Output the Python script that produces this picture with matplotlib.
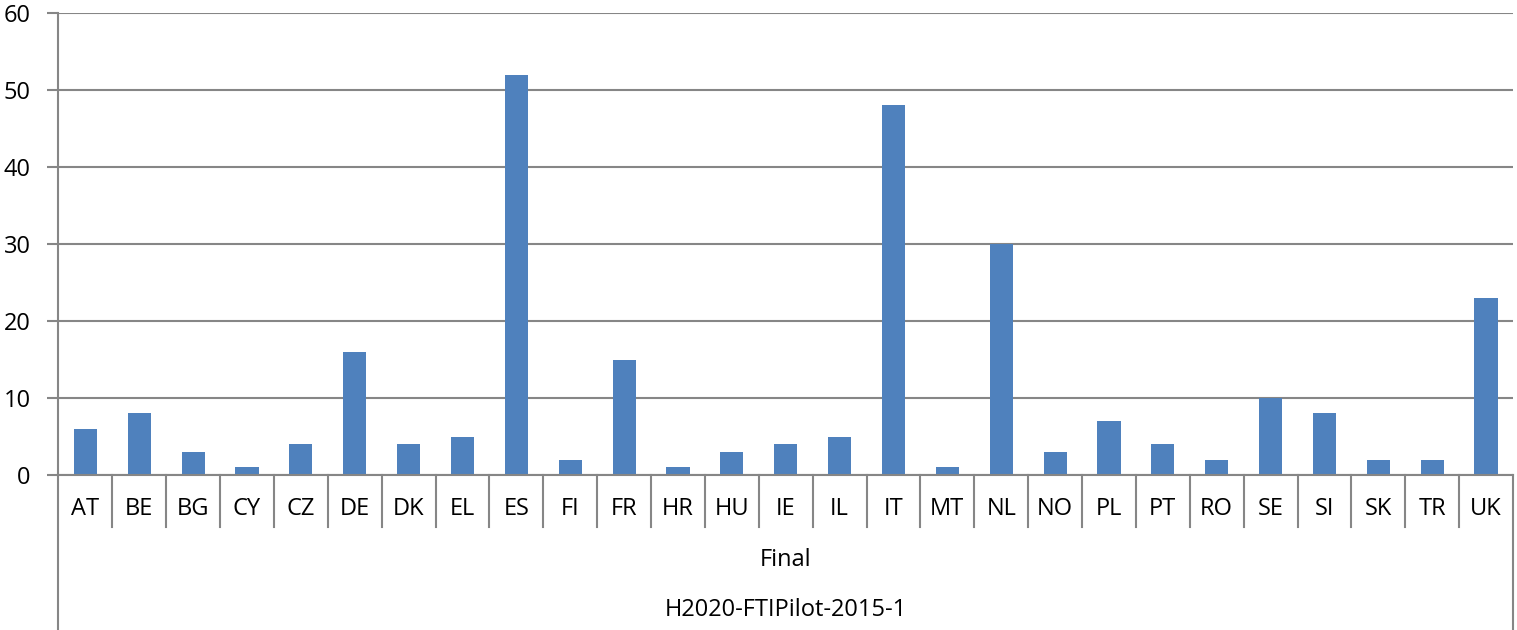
import matplotlib
matplotlib.use("Agg")
import matplotlib.pyplot as plt
import matplotlib.transforms as mtransforms

countries = ["AT", "BE", "BG", "CY", "CZ", "DE", "DK", "EL", "ES", "FI", "FR", "HR", "HU", "IE",
             "IL", "IT", "MT", "NL", "NO", "PL", "PT", "RO", "SE", "SI", "SK", "TR", "UK"]
values = [6, 8, 3, 1, 4, 16, 4, 5, 52, 2, 15, 1, 3, 4, 5, 48, 1, 30, 3, 7, 4, 2, 10, 8, 2, 2, 23]
level2 = "Final"
level3 = "H2020-FTIPilot-2015-1"
yticks = [0, 10, 20, 30, 40, 50, 60]

W, H = 1517, 630
plt.rcParams["font.family"] = ["Open Sans", "DejaVu Sans"]
fig = plt.figure(figsize=(W / 100, H / 100), dpi=100)
ax = fig.add_axes([58.5 / W, 1 - 475 / H, (1513 - 58.5) / W, (475 - 13) / H])

grey = "#868686"
fs = 17
n = len(countries)
ax.bar(range(n), values, width=0.43, color="#4F81BD", zorder=3)
ax.set_xlim(-0.5, n - 0.5)
ax.set_ylim(0, 60)
ax.set_yticks(yticks)
ax.yaxis.grid(True, color=grey, lw=1.5, zorder=0)
ax.set_xticks([])
for s in ["top", "right", "bottom"]:
    ax.spines[s].set_visible(False)
ax.spines["left"].set_color(grey)
ax.spines["left"].set_linewidth(1.5)
ax.tick_params(axis="y", length=8, width=1.5, color=grey, labelsize=fs, pad=12)

# multi-level category axis drawn below the plot area
tr = mtransforms.blended_transform_factory(ax.transData, fig.transFigure)
def fy(px):
    return 1 - px / H

ax.plot([-0.5, n - 0.5], [fy(475), fy(475)], transform=tr, color=grey, lw=1.5, clip_on=False, zorder=4)
for i in range(1, n):
    ax.plot([i - 0.5, i - 0.5], [fy(475), fy(527)], transform=tr, color=grey, lw=1.5, clip_on=False)
for xb in [-0.5, n - 0.5]:
    ax.plot([xb, xb], [fy(475), fy(630)], transform=tr, color=grey, lw=1.5, clip_on=False)
for i, c in enumerate(countries):
    ax.text(i, fy(509), c, transform=tr, ha="center", va="center", fontsize=fs)
ax.text((n - 1) / 2, fy(560), level2, transform=tr, ha="center", va="center", fontsize=fs)
ax.text((n - 1) / 2, fy(610), level3, transform=tr, ha="center", va="center", fontsize=fs)

fig.savefig("out.png", dpi=100)
